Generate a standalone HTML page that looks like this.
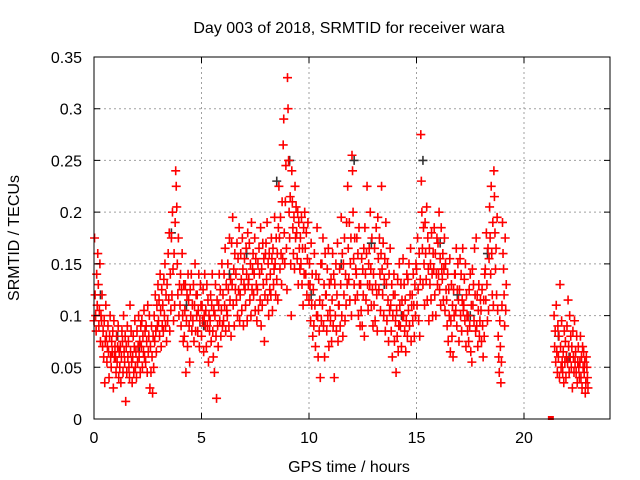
<!DOCTYPE html>
<html><head><meta charset="utf-8"><style>
body{margin:0;background:#fff}
svg{display:block;font-family:"Liberation Sans",sans-serif}
</style></head><body>
<svg id="chart" width="640" height="480" viewBox="0 0 640 480">
<rect width="640" height="480" fill="#fff"/>
<g id="grid"></g>
<g id="darkpts"></g>
<g id="redpts"></g>
<g id="axes"></g>
<text x="349" y="33" font-size="16" text-anchor="middle">Day 003 of 2018, SRMTID for receiver wara</text>
<text x="349" y="472" font-size="16" text-anchor="middle">GPS time / hours</text>
<text transform="translate(19,238) rotate(-90)" font-size="16" text-anchor="middle">SRMTID / TECUs</text>
</svg>
<script>
const xTicks=[0,5,10,15,20];
const yTicks=[0,0.05,0.1,0.15,0.2,0.25,0.3,0.35];
const yTickLabels=["0","0.05","0.1","0.15","0.2","0.25","0.3","0.35"];
const binStarts=[0,0.2,0.4,0.6,0.8,1.0,1.2,1.4,1.6,1.8,2.0,2.2,2.4,2.6,2.8,3.0,3.2,3.4,3.6,3.8,4.0,4.2,4.4,4.6,4.8,5.0,5.2,5.4,5.6,5.8,6.0,6.2,6.4,6.6,6.8,7.0,7.2,7.4,7.6,7.8,8.0,8.2,8.4,8.6,8.8,9.0,9.2,9.4,9.6,9.8,10.0,10.2,10.4,10.6,10.8,11.0,11.2,11.4,11.6,11.8,12.0,12.2,12.4,12.6,12.8,13.0,13.2,13.4,13.6,13.8,14.0,14.2,14.4,14.6,14.8,15.0,15.2,15.4,15.6,15.8,16.0,16.2,16.4,16.6,16.8,17.0,17.2,17.4,17.6,17.8,18.0,18.2,18.4,18.6,18.8,19.0,21.4,21.6,21.8,22.0,22.2,22.4,22.6,22.8];
const redBins=[
"95 175 120 100 85 140 110 160","130 90 105 150 75 100 95 120","70 85 60 95 35 75 110 80","55 70 90 65 40 80 100 60","50 75 65 85 30 95 60 70",
"60 45 80 55 70 90 40 65","50 70 35 60 85 75 45 100","65 55 80 17 70 45 90 60","75 50 40 110 65 85 55 35","60 80 45 70 95 50 65 40",
"85 55 70 100 60 75 45 90","70 95 50 80 65 105 60 85","55 90 75 45 110 65 80 100","30 70 45 90 60 25 80 50","100 75 120 85 65 110 90 130",
"95 115 80 140 105 70 125 90","110 85 135 100 150 90 120 75","130 95 160 115 180 85 140 105","175 120 200 145 95 160 110 190","240 225 205 150 120 175 100 130",
"110 140 90 125 160 100 75 130","80 105 130 45 95 120 70 140","115 90 55 125 100 140 85 110","95 130 75 110 150 85 120 100","120 85 105 140 70 95 130 110",
"80 110 95 125 65 100 140 90","105 70 130 90 115 55 100 85","95 120 75 110 140 85 60 105","45 100 130 80 20 115 90 70","110 140 95 125 80 105 150 90",
"120 95 140 110 165 85 130 105","100 150 125 90 175 115 135 80","170 130 195 110 145 90 160 125","140 115 170 100 155 125 185 95","120 160 135 105 175 145 90 130",
"155 125 110 165 140 95 180 130","135 170 115 150 100 190 125 145","160 120 140 175 105 155 130 95","125 150 105 165 140 115 185 90","145 110 170 130 155 75 120 160",
"170 135 190 115 150 100 160 125","140 120 175 155 105 165 130 145","195 150 120 175 135 160 115 185","225 175 145 195 160 130 210 155","265 290 180 150 210 245 165 125",
"330 300 250 200 175 215 150 100","240 210 185 160 195 145 225 175","205 180 155 200 130 190 165 145","175 150 195 130 165 110 185 140","200 165 140 180 120 155 190 130",
"115 150 130 95 170 110 140 80","125 90 160 110 70 140 100 185","100 60 135 85 115 40 150 95","150 110 175 90 130 60 160 120","120 85 145 100 165 70 130 105",
"95 135 75 115 160 90 140 40","130 100 150 85 120 170 75 110","110 145 90 130 195 100 160 80","150 120 175 95 140 110 190 130","225 165 135 190 115 150 175 100",
"255 240 200 155 130 175 115 145","140 175 120 160 100 185 130 90","130 105 155 90 145 120 165 80","185 140 115 160 225 130 105 150","165 130 200 145 110 175 125 90",
"140 110 165 95 130 185 120 85","195 155 125 175 140 105 160 225","145 120 170 100 135 155 85 190","130 95 150 115 75 140 105 165","110 85 130 60 100 120 140 75",
"120 95 45 105 80 135 65 90","150 110 90 130 70 115 100 155","100 130 85 115 65 95 140 80","135 105 150 90 120 165 75 110","120 95 140 110 80 130 100 150",
"145 110 175 125 95 160 80 135","275 230 200 165 130 185 150 110","190 160 135 205 115 175 145 95","165 130 150 115 180 140 100 160","145 185 120 160 100 140 175 130",
"170 140 200 125 155 110 185 145","135 160 115 145 175 105 150 125","115 90 140 75 125 100 155 65","95 130 80 110 60 125 100 140","140 105 165 90 125 150 115 75",
"125 155 100 140 85 115 165 105","110 135 95 150 70 120 100 85","100 75 125 90 140 65 110 55","145 110 130 95 165 120 85 175","90 120 70 105 130 80 95 115",
"105 75 125 90 60 115 80 140","145 115 180 130 95 165 105 155","205 175 140 225 160 120 190 110","240 215 180 145 165 120 195 105","80 60 45 95 70 35 55 110",
"190 160 145 120 90 175 105 130",
"100 70 85 55 110 65 45 90","60 80 40 130 70 50 95 55","45 65 35 85 55 75 40 60","90 55 115 70 45 100 60 80","50 70 30 85 60 45 95 55","65 45 80 35 55 70 50 40","55 80 40 60 30 70 50 65","45 55 25 35 60 50 40 30"];
const darkTimes=[0.3,1.1,2.1,3.6,4.3,5.1,6.3,7.1,8.5,9.1,10.1,11.5,12.1,12.9,13.5,14.3,15.3,16.1,16.9,17.5,18.3,21.6,22.1];
const darkValues=[0.12,0.08,0.07,0.18,0.11,0.09,0.14,0.16,0.23,0.25,0.12,0.15,0.25,0.17,0.13,0.1,0.25,0.17,0.12,0.1,0.16,0.08,0.06];
const zeroPointTime=21.25, zeroPointValue=0;

const X0=94,X1=610,Y0=419,Y1=57,XMAX=24,YMAX=0.35;
const sx=v=>X0+v/XMAX*(X1-X0);
const sy=v=>Y0-v/YMAX*(Y0-Y1);
const NS="http://www.w3.org/2000/svg";
function mk(tag,attrs,parent){const e=document.createElementNS(NS,tag);for(const k in attrs)e.setAttribute(k,attrs[k]);parent.appendChild(e);return e;}
const grid=document.getElementById('grid'),axes=document.getElementById('axes');
xTicks.forEach((t,i)=>{
  if(t>0){const g=mk('line',{x1:sx(t),x2:sx(t),y1:Y1,y2:Y0,stroke:'#a0a0a0','stroke-dasharray':'2,3'},grid);
  
  }
  const tk=mk('path',{d:`M${sx(t)},${Y0}v-6M${sx(t)},${Y1}v6`,stroke:'#000'},axes);
  
  
  const tl=mk('text',{x:sx(t),y:Y0+24,'font-size':16,'text-anchor':'middle'},axes);tl.textContent=String(t);
  
  
});
yTicks.forEach((t,i)=>{
  if(t>0&&t<YMAX){const g=mk('line',{x1:X0,x2:X1,y1:sy(t),y2:sy(t),stroke:'#a0a0a0','stroke-dasharray':'2,3'},grid);
  
  }
  const tk=mk('path',{d:`M${X0},${sy(t)}h6M${X1},${sy(t)}h-6`,stroke:'#000'},axes);
  
  
  const tl=mk('text',{x:X0-12,y:sy(t)+6,'font-size':16,'text-anchor':'end'},axes);tl.textContent=yTickLabels[i];
  
  
});
const border=mk('rect',{x:X0,y:Y1,width:X1-X0,height:Y0-Y1,fill:'none',stroke:'#000'},axes);


function plus(x,y,col,parent,name){
  const p=mk('path',{d:`M${x-4.5},${y}h9M${x},${y-4.5}v9`,stroke:col,'stroke-width':1.6},parent);
  
  
}
const red=document.getElementById('redpts'),dark=document.getElementById('darkpts');
darkTimes.forEach((t,i)=>plus(sx(t),sy(darkValues[i]),'#333',dark,'black-point'));
binStarts.forEach((b,i)=>{
  const vals=redBins[i].split(' ').map(Number);
  vals.forEach((v,j)=>plus(sx(b+j*0.2/vals.length),sy(v/1000),'#f00',red,'red-point'));
});
const z=mk('rect',{x:sx(zeroPointTime)-3,y:sy(zeroPointValue)-3,width:6,height:4,fill:'#f00'},red);


</script>
</body></html>
